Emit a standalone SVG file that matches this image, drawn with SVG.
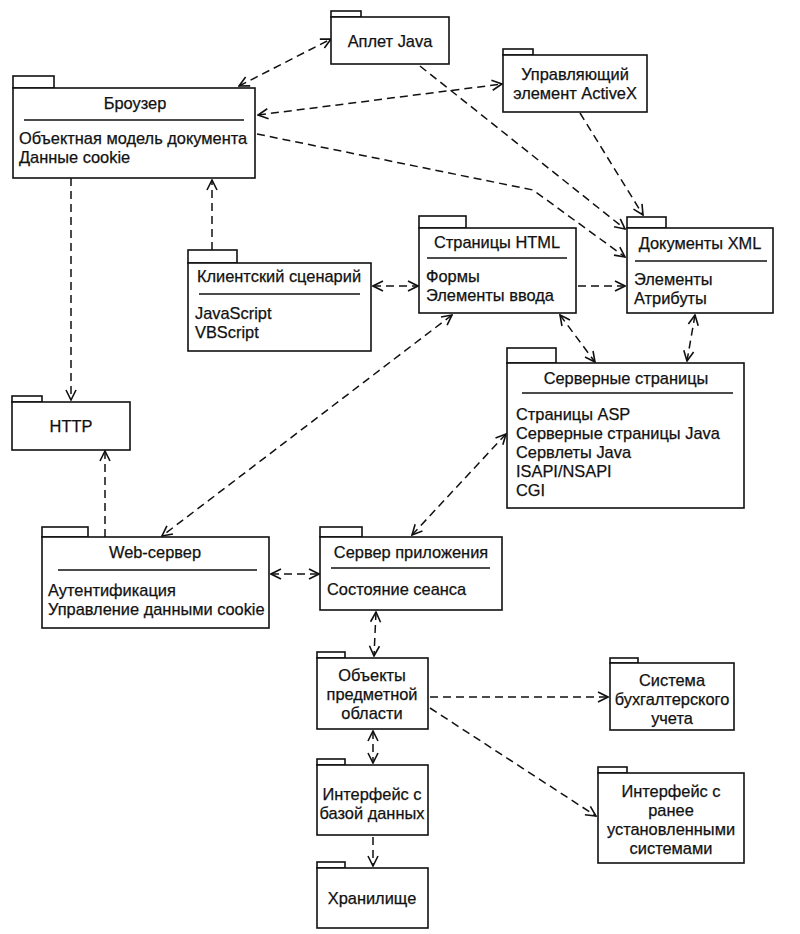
<svg xmlns="http://www.w3.org/2000/svg" width="800" height="934" viewBox="0 0 800 934">
<defs>
<style>
.b{fill:#fff;stroke:#111;stroke-width:1.6}
.s{stroke:#111;stroke-width:1.4}
text{font-family:"Liberation Sans",Arial,sans-serif;font-size:16.4px;fill:#111;stroke:#111;stroke-width:0.25}
.c{text-anchor:middle}
.l{fill:none;stroke:#111;stroke-width:1.5;stroke-dasharray:8 5}
</style>
<marker id="a" viewBox="0 0 12 12" refX="11" refY="6" markerWidth="12" markerHeight="12" markerUnits="userSpaceOnUse" orient="auto-start-reverse">
<path d="M1,1 L11,6 L1,11" fill="none" stroke="#111" stroke-width="1.6" stroke-dasharray="none"/>
</marker>
</defs>
<rect width="800" height="934" fill="#fff"/>

<g id="connectors">
<line class="l" x1="239" y1="86" x2="331" y2="39" marker-start="url(#a)" marker-end="url(#a)"/>
<line class="l" x1="258" y1="115" x2="502" y2="84" marker-start="url(#a)" marker-end="url(#a)"/>
<polyline class="l" points="257,134 533,190 625,257" marker-end="url(#a)"/>
<line class="l" x1="420" y1="66" x2="625" y2="229" marker-end="url(#a)"/>
<line class="l" x1="580" y1="113" x2="643" y2="215" marker-end="url(#a)"/>
<line class="l" x1="212" y1="250" x2="212" y2="180" marker-end="url(#a)"/>
<line class="l" x1="71" y1="178" x2="71" y2="400" marker-end="url(#a)"/>
<line class="l" x1="373" y1="286" x2="418" y2="286" marker-start="url(#a)" marker-end="url(#a)"/>
<line class="l" x1="578" y1="286" x2="625" y2="286" marker-end="url(#a)"/>
<line class="l" x1="560" y1="315" x2="595" y2="362" marker-start="url(#a)" marker-end="url(#a)"/>
<line class="l" x1="695" y1="315" x2="687" y2="361" marker-start="url(#a)" marker-end="url(#a)"/>
<line class="l" x1="452" y1="315" x2="162" y2="536" marker-start="url(#a)" marker-end="url(#a)"/>
<line class="l" x1="105" y1="537" x2="105" y2="451" marker-end="url(#a)"/>
<line class="l" x1="271" y1="574" x2="319" y2="574" marker-start="url(#a)" marker-end="url(#a)"/>
<line class="l" x1="412" y1="535" x2="506" y2="434" marker-start="url(#a)" marker-end="url(#a)"/>
<line class="l" x1="376" y1="612" x2="374" y2="656" marker-start="url(#a)" marker-end="url(#a)"/>
<line class="l" x1="373" y1="731" x2="373" y2="763" marker-start="url(#a)" marker-end="url(#a)"/>
<line class="l" x1="373" y1="837" x2="373" y2="866" marker-end="url(#a)"/>
<line class="l" x1="430" y1="697" x2="608" y2="697" marker-end="url(#a)"/>
<line class="l" x1="430" y1="708" x2="596" y2="816" marker-end="url(#a)"/>
</g>

<g id="browser">
<rect class="b" x="13" y="76" width="41" height="12"/>
<rect class="b" x="13" y="88" width="242" height="90"/>
<text class="c" x="135" y="109">Броузер</text>
<line class="s" x1="24" y1="120" x2="244" y2="120"/>
<text x="19" y="144">Объектная модель документа</text>
<text x="19" y="163">Данные cookie</text>
</g>

<g id="applet">
<rect class="b" x="331" y="11" width="30" height="6"/>
<rect class="b" x="331" y="17" width="118" height="47"/>
<text class="c" x="390" y="47">Аплет Java</text>
</g>

<g id="activex">
<rect class="b" x="503" y="49" width="30" height="6"/>
<rect class="b" x="503" y="55" width="144" height="57"/>
<text class="c" x="575" y="80">Управляющий</text>
<text class="c" x="575" y="99">элемент ActiveX</text>
</g>

<g id="html">
<rect class="b" x="419" y="216" width="47" height="12"/>
<rect class="b" x="419" y="228" width="157" height="85"/>
<text class="c" x="497" y="248">Страницы HTML</text>
<line class="s" x1="427" y1="258" x2="567" y2="258"/>
<text x="426" y="282">Формы</text>
<text x="426" y="301">Элементы ввода</text>
</g>

<g id="xml">
<rect class="b" x="627" y="217" width="39" height="11"/>
<rect class="b" x="627" y="228" width="146" height="85"/>
<text class="c" x="700" y="249">Документы XML</text>
<line class="s" x1="635" y1="261" x2="767" y2="261"/>
<text x="634" y="285">Элементы</text>
<text x="634" y="304">Атрибуты</text>
</g>

<g id="client-script">
<rect class="b" x="188" y="250" width="49" height="13"/>
<rect class="b" x="188" y="263" width="183" height="88"/>
<text class="c" x="279" y="282">Клиентский сценарий</text>
<line class="s" x1="199" y1="294" x2="360" y2="294"/>
<text x="195" y="319">JavaScript</text>
<text x="195" y="338">VBScript</text>
</g>

<g id="http">
<rect class="b" x="12" y="396" width="30" height="6"/>
<rect class="b" x="12" y="402" width="118" height="48"/>
<text class="c" x="71" y="432">HTTP</text>
</g>

<g id="server-pages">
<rect class="b" x="507" y="348" width="49" height="15"/>
<rect class="b" x="507" y="363" width="237" height="145"/>
<text class="c" x="626" y="384">Серверные страницы</text>
<line class="s" x1="522" y1="393" x2="733" y2="393"/>
<text x="516" y="420">Страницы ASP</text>
<text x="516" y="439">Серверные страницы Java</text>
<text x="516" y="458">Сервлеты Java</text>
<text x="516" y="477">ISAPI/NSAPI</text>
<text x="516" y="496">CGI</text>
</g>

<g id="web-server">
<rect class="b" x="42" y="527" width="46" height="10"/>
<rect class="b" x="42" y="537" width="227" height="91"/>
<text class="c" x="155" y="558">Web-сервер</text>
<line class="s" x1="58" y1="570" x2="257" y2="570"/>
<text x="48" y="596">Аутентификация</text>
<text x="48" y="615">Управление данными cookie</text>
</g>

<g id="app-server">
<rect class="b" x="320" y="527" width="42" height="10"/>
<rect class="b" x="320" y="537" width="182" height="73"/>
<text class="c" x="411" y="558">Сервер приложения</text>
<line class="s" x1="331" y1="568" x2="490" y2="568"/>
<text x="327" y="595">Состояние сеанса</text>
</g>

<g id="domain-objects">
<rect class="b" x="317" y="652" width="28" height="6"/>
<rect class="b" x="317" y="658" width="111" height="71"/>
<text class="c" x="372" y="681">Объекты</text>
<text class="c" x="372" y="700">предметной</text>
<text class="c" x="372" y="719">области</text>
</g>

<g id="db-interface">
<rect class="b" x="317" y="759" width="28" height="6"/>
<rect class="b" x="317" y="765" width="111" height="70"/>
<text class="c" x="372" y="800">Интерфейс с</text>
<text class="c" x="372" y="819">базой данных</text>
</g>

<g id="storage">
<rect class="b" x="317" y="862" width="28" height="6"/>
<rect class="b" x="317" y="868" width="111" height="60"/>
<text class="c" x="372" y="904">Хранилище</text>
</g>

<g id="accounting">
<rect class="b" x="610" y="658" width="28" height="5"/>
<rect class="b" x="610" y="663" width="124" height="67"/>
<text class="c" x="672" y="686">Система</text>
<text class="c" x="672" y="705">бухгалтерского</text>
<text class="c" x="672" y="724">учета</text>
</g>

<g id="legacy">
<rect class="b" x="598" y="767" width="29" height="6"/>
<rect class="b" x="598" y="773" width="146" height="90"/>
<text class="c" x="671" y="797">Интерфейс с</text>
<text class="c" x="671" y="816">ранее</text>
<text class="c" x="671" y="835">установленными</text>
<text class="c" x="671" y="854">системами</text>
</g>
</svg>
